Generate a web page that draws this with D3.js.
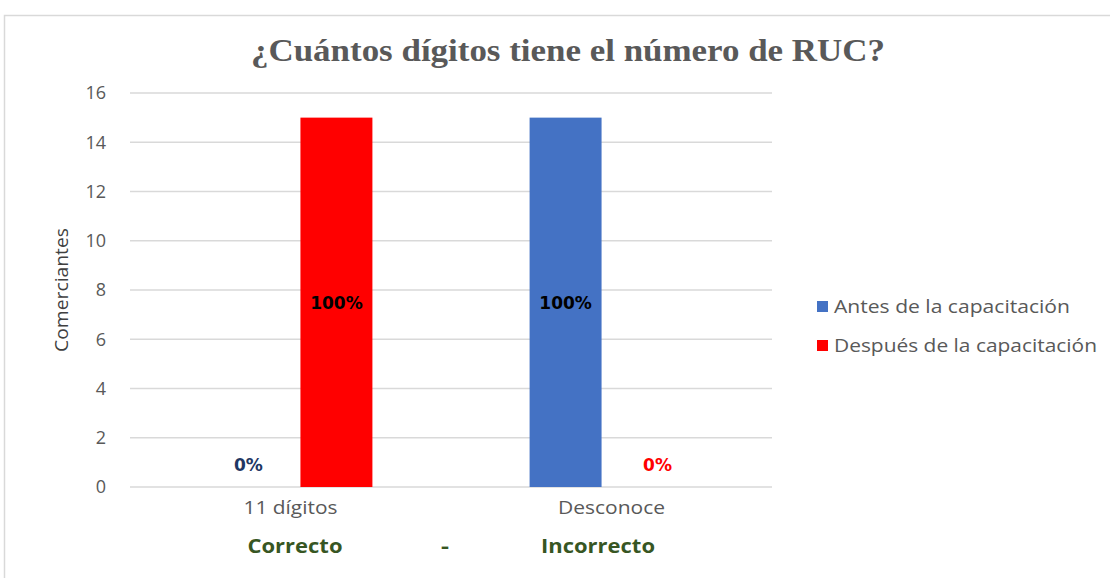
<!DOCTYPE html>
<html lang="es">
<head>
<meta charset="UTF-8">
<script src="https://cdn.jsdelivr.net/npm/d3@7/dist/d3.min.js"></script>
<style>
  body { margin: 0; background: #fff; }
  text { font-family: 'Open Sans', 'Noto Sans', sans-serif; }
  .tick text { fill: #595959; font-size: 18px; }
  .data_label { font-family: 'DejaVu Sans', sans-serif; font-weight: bold; font-size: 17px; }
</style>
</head>
<body>
<div id="chart"></div>
<script>
// data
var categories = ["11 dígitos", "Desconoce"];
var seriesNames = ["Antes de la capacitación", "Después de la capacitación"];
var antes = [0, 15];
var despues = [15, 0];
var pctAntes = ["0%", "100%"];
var pctDespues = ["100%", "0%"];
var yTicks = [0, 2, 4, 6, 8, 10, 12, 14, 16];
var bottomLabels = ["Correcto", "-", "Incorrecto"];

var colors = ["#4472c4", "#ff0000"];
var labelColors = [["#1f3864", "#000"], ["#000", "#ff0000"]];

var width = 1110, height = 578;
var plotLeft = 130, plotRight = 772, plotTop = 93, plotBottom = 487;

var svg = d3.select("#chart").append("svg")
  .attr("width", width)
  .attr("height", height);

// frame
svg.append("rect")
  .attr("x", 4.5).attr("y", 15.5)
  .attr("width", 1120).attr("height", 600)
  .style("fill", "none")
  .style("stroke", "#d9d9d9")
  .style("stroke-width", 1.5);

var x0 = d3.scaleBand()
  .domain(categories)
  .range([plotLeft, plotRight])
  .paddingInner(0.522)
  .paddingOuter(0.327);

var x1 = d3.scaleBand()
  .domain(seriesNames)
  .range([0, x0.bandwidth()]);

var y = d3.scaleLinear()
  .domain([0, 16])
  .range([plotBottom, plotTop]);

// grid
svg.append("g")
  .selectAll("line")
  .data(yTicks)
  .enter()
  .append("line")
  .attr("x1", plotLeft).attr("x2", plotRight)
  .attr("y1", function(d) { return y(d); })
  .attr("y2", function(d) { return y(d); })
  .style("stroke", "#d9d9d9")
  .style("stroke-width", 1.5);

// y axis
var yAxis = svg.append("g")
  .attr("transform", "translate(" + plotLeft + ",0)")
  .call(d3.axisLeft(y).tickValues(yTicks).tickSize(0).tickPadding(24));
yAxis.select(".domain").remove();

// x axis
var catWidths = [94, 107];
var xAxis = svg.append("g")
  .attr("transform", "translate(0," + plotBottom + ")")
  .call(d3.axisBottom(x0).tickSize(0).tickPadding(14));
xAxis.select(".domain").remove();
xAxis.selectAll(".tick text")
  .style("font-size", "18px")
  .attr("textLength", function(d, i) { return catWidths[i]; })
  .attr("lengthAdjust", "spacingAndGlyphs")
  .attr("dx", function(d, i) { return i == 0 ? -10 : 10; });

var rows = [antes, despues];
var pcts = [pctAntes, pctDespues];

seriesNames.forEach(function(s, si) {
  var g = svg.append("g");
  g.selectAll("rect")
    .data(categories)
    .enter()
    .append("rect")
    .attr("x", function(c) { return x0(c) + x1(s); })
    .attr("width", x1.bandwidth())
    .attr("y", function(c, i) { return y(rows[si][i]); })
    .attr("height", function(c, i) { return plotBottom - y(rows[si][i]); })
    .style("fill", colors[si]);

  g.selectAll("text")
    .data(categories)
    .enter()
    .append("text")
    .attr("class", "data_label")
    .attr("x", function(c, i) {
      var shift = rows[si][i] == 0 ? (si == 0 ? -16 : 20) : 0;
      return x0(c) + x1(s) + x1.bandwidth() / 2 + shift;
    })
    .attr("y", function(c, i) {
      var v = rows[si][i];
      return v == 0 ? y(0) - 16 : (y(v) + y(0)) / 2 + 7;
    })
    .attr("text-anchor", "middle")
    .style("fill", function(c, i) { return labelColors[si][i]; })
    .text(function(c, i) { return pcts[si][i]; });
});

// title
svg.append("text")
  .attr("x", 568).attr("y", 61)
  .attr("text-anchor", "middle")
  .attr("textLength", 634)
  .attr("lengthAdjust", "spacingAndGlyphs")
  .style("font-family", "'Liberation Serif', 'Times New Roman', serif")
  .style("font-weight", "bold")
  .style("font-size", "32px")
  .style("fill", "#595959")
  .text("¿Cuántos dígitos tiene el número de RUC?");

// y axis title
svg.append("text")
  .attr("transform", "translate(68," + ((plotTop + plotBottom) / 2) + ") rotate(-90)")
  .attr("text-anchor", "middle")
  .attr("textLength", 124)
  .attr("lengthAdjust", "spacingAndGlyphs")
  .style("font-size", "19px")
  .style("fill", "#404040")
  .text("Comerciantes");

// legend
var legendWidths = [236, 263];
var legend = svg.append("g")
  .selectAll("g")
  .data(seriesNames)
  .enter()
  .append("g")
  .attr("transform", function(d, i) { return "translate(817," + (301 + i * 39) + ")"; });
legend.append("rect")
  .attr("width", 11).attr("height", 11)
  .style("fill", function(d, i) { return colors[i]; });
legend.append("text")
  .attr("x", 17).attr("y", 12)
  .attr("textLength", function(d, i) { return legendWidths[i]; })
  .attr("lengthAdjust", "spacingAndGlyphs")
  .style("font-size", "18px")
  .style("fill", "#595959")
  .text(function(d) { return d; });

// bottom labels
var bx = [295, 445, 598];
var bw = [95, 8, 114];
svg.append("g")
  .selectAll("text")
  .data(bottomLabels)
  .enter()
  .append("text")
  .attr("x", function(d, i) { return bx[i]; })
  .attr("y", 553)
  .attr("text-anchor", "middle")
  .attr("textLength", function(d, i) { return bw[i]; })
  .attr("lengthAdjust", "spacingAndGlyphs")
  .style("font-size", "19px")
  .style("font-weight", "bold")
  .style("fill", "#375623")
  .text(function(d) { return d; });
</script>
</body>
</html>
